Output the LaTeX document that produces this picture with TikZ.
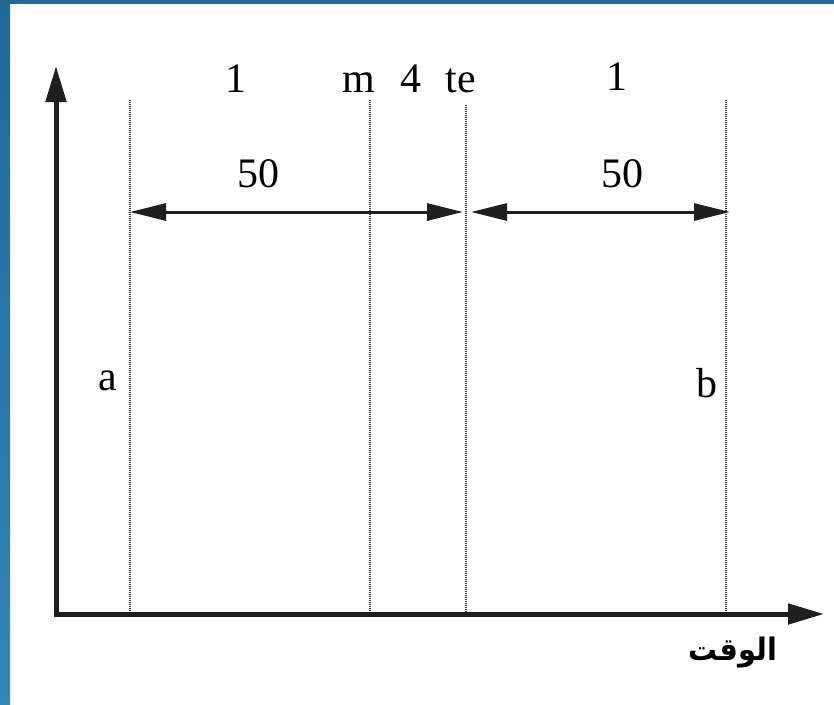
\documentclass[tikz,border=0pt]{standalone}
\usepackage{fontspec}
\setmainfont{Liberation Serif}
\newfontfamily\arabicfont[Script=Arabic]{DejaVu Sans}
\TeXXeTstate=1
\usetikzlibrary{arrows.meta}
\definecolor{bandtop}{RGB}{33,104,150}
\definecolor{bandbot}{RGB}{52,134,184}
\tikzset{
  lbl/.style={anchor=base, inner sep=0pt, font=\fontsize{42}{50}\selectfont},
  guide/.style={line width=1.5pt, dash pattern=on 1pt off 1pt, black!80},
  dim/.style={line width=3pt, black!88, {Triangle[length=36pt,width=17pt]}-{Triangle[length=36pt,width=17pt]}},
  axis/.style={line width=5pt, black!88, -{Triangle[length=36pt,width=20pt]}}
}
\begin{document}
\begin{tikzpicture}[x=1pt,y=-1pt]
\useasboundingbox (0,0) rectangle (834,704);
\fill[white] (0,0) rectangle (834,704);
% blue frame
\shade[top color=bandtop, bottom color=bandbot] (0,0) rectangle (10,704);
\fill[bandtop] (0,0) rectangle (834,4);
% coordinates
\coordinate (o) at (56,614);
\coordinate (ytip) at (56,66);
\coordinate (xtip) at (824,614);
\coordinate (g1t) at (130,100); \coordinate (g1b) at (130,612);
\coordinate (g2t) at (370,100); \coordinate (g2b) at (370,612);
\coordinate (g3t) at (466,105); \coordinate (g3b) at (466,612);
\coordinate (g4t) at (726,100); \coordinate (g4b) at (726,612);
\coordinate (d1l) at (130,212); \coordinate (d1r) at (463,212);
\coordinate (d2l) at (471,212); \coordinate (d2r) at (730,212);
% guides
\draw[guide] (g1t) -- (g1b);
\draw[guide] (g2t) -- (g2b);
\draw[guide] (g3t) -- (g3b);
\draw[guide] (g4t) -- (g4b);
% dimension arrows
\draw[dim] (d1l) -- (d1r);
\draw[dim] (d2l) -- (d2r);
% axes
\draw[axis] ([yshift=2.5pt]o) -- (ytip);
\draw[axis] ([xshift=-2.5pt]o) -- (xtip);
% labels
\node[lbl] (one1) at (236,92) {1};
\node[lbl] (m) at (359,92) {m};
\node[lbl] (four) at (411,92) {4};
\node[lbl] (te) at (461,92) {te};
\node[lbl] (one2) at (617,90) {1};
\node[lbl] (fifty1) at (258,187) {50};
\node[lbl] (fifty2) at (622,187) {50};
\node[lbl] (a) at (108,390) {a};
\node[lbl] (b) at (707,397) {b};
\node[anchor=base, inner sep=0pt, xscale=0.93, font=\arabicfont\bfseries\fontsize{31}{36}\selectfont] (time) at (733,660) {\beginR الوقت\endR};
\end{tikzpicture}
\end{document}
